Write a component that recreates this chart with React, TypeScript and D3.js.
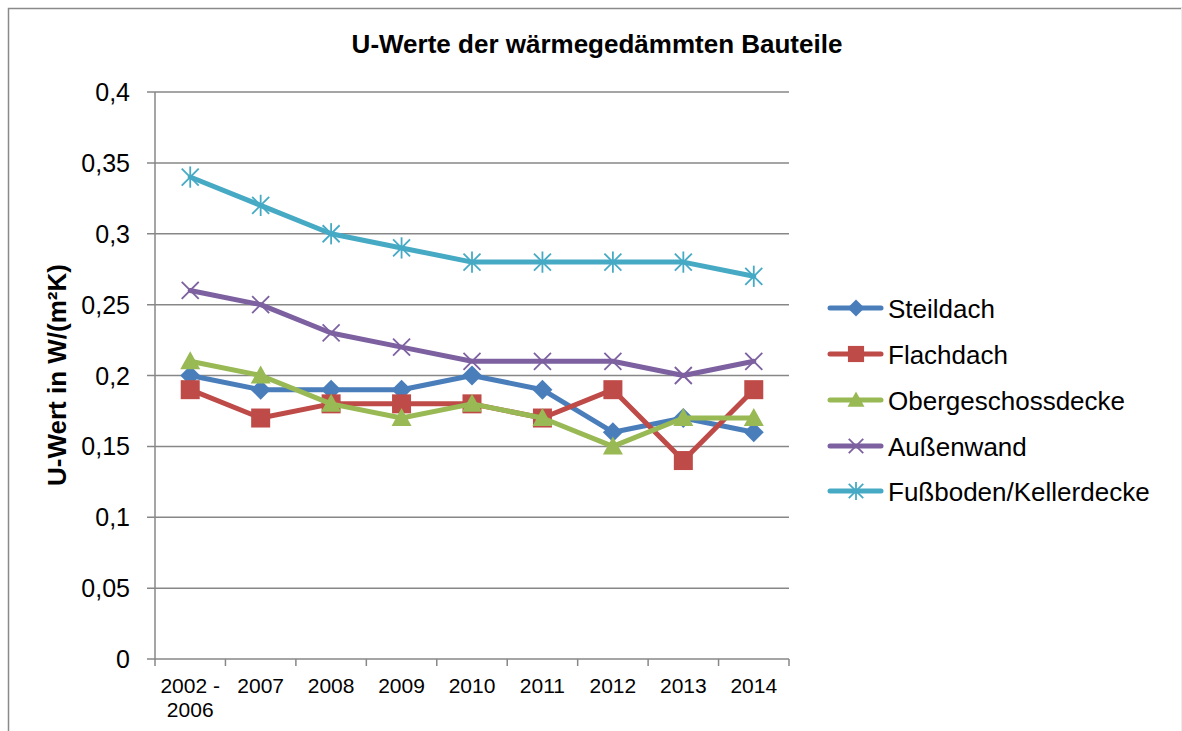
import React from "react";
import * as d3 from "d3";

const categories = ["2002 - 2006", "2007", "2008", "2009", "2010", "2011", "2012", "2013", "2014"];
const seriesNames = ["Steildach", "Flachdach", "Obergeschossdecke", "Außenwand", "Fußboden/Kellerdecke"];
const steildach = [0.2, 0.19, 0.19, 0.19, 0.2, 0.19, 0.16, 0.17, 0.16];
const flachdach = [0.19, 0.17, 0.18, 0.18, 0.18, 0.17, 0.19, 0.14, 0.19];
const obergeschossdecke = [0.21, 0.2, 0.18, 0.17, 0.18, 0.17, 0.15, 0.17, 0.17];
const aussenwand = [0.26, 0.25, 0.23, 0.22, 0.21, 0.21, 0.21, 0.2, 0.21];
const fussboden = [0.34, 0.32, 0.3, 0.29, 0.28, 0.28, 0.28, 0.28, 0.27];
const yTicks = [0, 0.05, 0.1, 0.15, 0.2, 0.25, 0.3, 0.35, 0.4];
const colors = ["#4A7EBB", "#BE4B48", "#98B954", "#7D60A0", "#46AAC5"];
const markers = ["diamond", "square", "triangle", "x", "star"];

const W = 1182, H = 731;
const left = 155, right = 789, top = 92, bottom = 659;

function Marker({ type, x, y, color, k = 1 }: { type: string; x: number; y: number; color: string; k?: number }) {
  if (type === "diamond") {
    const s = 10 * k;
    return <path d={`M${x},${y - s} L${x + s},${y} L${x},${y + s} L${x - s},${y} Z`} fill={color} />;
  }
  if (type === "square") {
    const s = 9.5 * k;
    return <rect x={x - s} y={y - s} width={2 * s} height={2 * s} fill={color} />;
  }
  if (type === "triangle") {
    const s = 10 * k;
    return <path d={`M${x},${y - s} L${x + s},${y + 0.8 * s} L${x - s},${y + 0.8 * s} Z`} fill={color} />;
  }
  const r = 8.5 * k;
  if (type === "x") {
    return (
      <g stroke={color} strokeWidth={1.8}>
        <line x1={x - r} y1={y - r} x2={x + r} y2={y + r} />
        <line x1={x - r} y1={y + r} x2={x + r} y2={y - r} />
      </g>
    );
  }
  return (
    <g stroke={color} strokeWidth={1.8}>
      <line x1={x - r} y1={y - r} x2={x + r} y2={y + r} />
      <line x1={x - r} y1={y + r} x2={x + r} y2={y - r} />
      <line x1={x} y1={y - r * 1.25} x2={x} y2={y + r * 1.25} />
    </g>
  );
}

export default function App() {
  const data = [steildach, flachdach, obergeschossdecke, aussenwand, fussboden];
  const x = d3.scaleBand<string>().domain(categories).range([left, right]);
  const y = d3.scaleLinear().domain([0, 0.4]).range([bottom, top]);
  const cxOf = (i: number) => (x(categories[i]) as number) + x.bandwidth() / 2;
  const line = d3
    .line<number>()
    .x((_, i) => cxOf(i))
    .y((d) => y(d));
  const fmt = (v: number) => String(+v.toFixed(2)).replace(".", ",");
  const grid = "#878787";
  const font = "Liberation Sans, Arial, sans-serif";
  const legendY = [308, 354, 400, 446, 491];

  return (
    <svg width={W} height={H} style={{ position: "absolute", left: 0, top: 0 }} fontFamily={font}>
      <rect x={0} y={0} width={W} height={H} fill="#fff" />
      <path d={`M8.5,${H + 5} V8.5 H${W + 5}`} fill="none" stroke="#8a8a8a" strokeWidth={1.5} />
      <line x1={1181.5} y1={8} x2={1181.5} y2={H} stroke="#ececec" strokeWidth={1} />
      <text x={597} y={53} textAnchor="middle" fontSize={26} fontWeight="bold">
        U-Werte der wärmegedämmten Bauteile
      </text>
      {yTicks.map((t) => (
        <g key={t}>
          <line x1={left - 8} x2={right} y1={y(t)} y2={y(t)} stroke={grid} strokeWidth={1.5} />
          <text x={130} y={y(t) + 9} textAnchor="end" fontSize={25}>
            {fmt(t)}
          </text>
        </g>
      ))}
      <line x1={left} x2={left} y1={top} y2={bottom} stroke={grid} strokeWidth={1.5} />
      {categories.map((c, i) => (
        <line key={"t" + i} x1={x(c) as number} x2={x(c) as number} y1={bottom} y2={bottom + 7} stroke={grid} strokeWidth={1.5} />
      ))}
      <line x1={right} x2={right} y1={bottom} y2={bottom + 7} stroke={grid} strokeWidth={1.5} />
      {categories.map((c, i) => {
        const cx = cxOf(i);
        const parts = c.includes(" - ") ? [c.split(" - ")[0] + " -", c.split(" - ")[1]] : [c];
        return (
          <text key={c} x={cx} y={693} textAnchor="middle" fontSize={21}>
            {parts.map((p, k) => (
              <tspan key={k} x={cx} dy={k === 0 ? 0 : 24}>
                {p}
              </tspan>
            ))}
          </text>
        );
      })}
      <text transform={`translate(66,375) rotate(-90)`} textAnchor="middle" fontSize={26} fontWeight="bold">
        U-Wert in W/(m²K)
      </text>
      {data.map((vals, si) => (
        <g key={si}>
          <path d={line(vals) as string} fill="none" stroke={colors[si]} strokeWidth={5} strokeLinejoin="round" strokeLinecap="round" />
          {vals.map((v, i) => (
            <Marker key={i} type={markers[si]} x={cxOf(i)} y={y(v)} color={colors[si]} />
          ))}
        </g>
      ))}
      {seriesNames.map((n, si) => (
        <g key={n}>
          <line x1={830} x2={881} y1={legendY[si]} y2={legendY[si]} stroke={colors[si]} strokeWidth={5} strokeLinecap="round" />
          <Marker type={markers[si]} x={856} y={legendY[si]} color={colors[si]} k={0.85} />
          <text x={888} y={legendY[si] + 9.5} fontSize={26}>
            {n}
          </text>
        </g>
      ))}
    </svg>
  );
}
